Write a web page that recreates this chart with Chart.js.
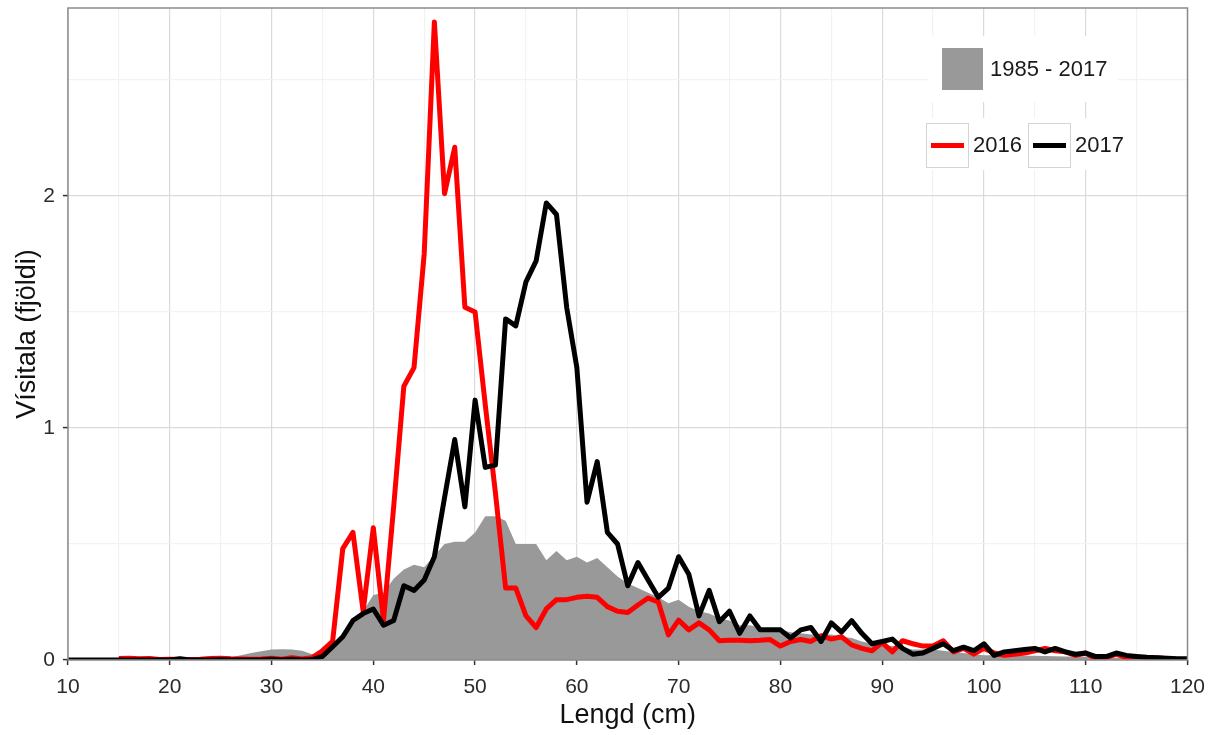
<!DOCTYPE html>
<html>
<head>
<meta charset="utf-8">
<script src="https://cdn.jsdelivr.net/npm/chart.js@4"></script>
<style>
  html, body { margin: 0; padding: 0; background: #fff; }
  #wrap { width: 1215px; height: 735px; }
</style>
</head>
<body>
<div id="wrap"><canvas id="lengdChart" width="1215" height="735"></canvas></div>
<script>
// Lengd (cm)
const lengd = [
  10, 11, 12, 13, 14, 15, 16, 17, 18, 19,
  20, 21, 22, 23, 24, 25, 26, 27, 28, 29,
  30, 31, 32, 33, 34, 35, 36, 37, 38, 39,
  40, 41, 42, 43, 44, 45, 46, 47, 48, 49,
  50, 51, 52, 53, 54, 55, 56, 57, 58, 59,
  60, 61, 62, 63, 64, 65, 66, 67, 68, 69,
  70, 71, 72, 73, 74, 75, 76, 77, 78, 79,
  80, 81, 82, 83, 84, 85, 86, 87, 88, 89,
  90, 91, 92, 93, 94, 95, 96, 97, 98, 99,
  100, 101, 102, 103, 104, 105, 106, 107, 108, 109,
  110, 111, 112, 113, 114, 115, 116, 117, 118, 119,
  120
];

// 1985 - 2017 (meðaltal, grátt svæði)
const medaltal = [
  0, 0, 0, 0, 0.001, 0.002, 0.002, 0.002, 0.002, 0.002,
  0.003, 0.003, 0.003, 0.004, 0.005, 0.007, 0.012, 0.02, 0.03, 0.038,
  0.045, 0.046, 0.045, 0.04, 0.025, 0.035, 0.055, 0.09, 0.15, 0.21,
  0.28, 0.29, 0.35, 0.39, 0.41, 0.40, 0.45, 0.50, 0.51, 0.51,
  0.55, 0.62, 0.62, 0.60, 0.50, 0.50, 0.50, 0.43, 0.47, 0.43,
  0.445, 0.42, 0.44, 0.40, 0.36, 0.33, 0.31, 0.29, 0.27, 0.245,
  0.26, 0.23, 0.21, 0.20, 0.18, 0.17, 0.15, 0.15, 0.14, 0.13,
  0.13, 0.12, 0.115, 0.11, 0.11, 0.11, 0.10, 0.095, 0.08, 0.07,
  0.065, 0.06, 0.055, 0.045, 0.045, 0.045, 0.04, 0.035, 0.03, 0.025,
  0.02, 0.02, 0.02, 0.02, 0.018, 0.018, 0.017, 0.016, 0.015, 0.015,
  0.014, 0.012, 0.01, 0.01, 0.008, 0.007, 0.006, 0.005, 0.004, 0.003,
  0.002
];

// 2016
const ar2016 = [
  null, null, null, null, null, 0.006, 0.008, 0.005, 0.006, 0.002,
  0.003, 0.002, 0.002, 0.003, 0.006, 0.008, 0.005, 0.004, 0.003, 0.004,
  0.008, 0.003, 0.01, 0.004, 0.01, 0.04, 0.08, 0.48, 0.55, 0.21,
  0.57, 0.17, 0.66, 1.18, 1.26, 1.75, 2.75, 2.01, 2.21, 1.52,
  1.50, 1.10, 0.72, 0.31, 0.31, 0.19, 0.14, 0.22, 0.26, 0.26,
  0.27, 0.275, 0.27, 0.23, 0.21, 0.205, 0.237, 0.267, 0.25, 0.108,
  0.172, 0.13, 0.16, 0.13, 0.083, 0.085, 0.085, 0.083, 0.085, 0.088,
  0.06, 0.08, 0.088, 0.08, 0.105, 0.09, 0.10, 0.065, 0.05, 0.04,
  0.075, 0.035, 0.083, 0.07, 0.06, 0.06, 0.083, 0.035, 0.05, 0.025,
  0.05, 0.03, 0.02, 0.025, 0.03, 0.04, 0.05, 0.04, 0.035, 0.02,
  0.03, 0.005, 0.01, 0.025, 0.01, 0.015, 0.005, 0.01, 0.005, 0.002,
  0
];

// 2017
const ar2017 = [
  0, 0, 0, 0, 0, 0, 0, 0, 0, 0,
  0, 0.006, 0, 0, 0, 0.002, 0, 0, 0, 0,
  0.003, 0, 0.003, 0, 0.002, 0.015, 0.057, 0.10, 0.17, 0.20,
  0.22, 0.15, 0.17, 0.32, 0.30, 0.345, 0.445, 0.70, 0.95, 0.66,
  1.12, 0.83, 0.84, 1.47, 1.44, 1.63, 1.72, 1.97, 1.92, 1.52,
  1.26, 0.68, 0.855, 0.55, 0.50, 0.32, 0.42, 0.345, 0.27, 0.31,
  0.445, 0.37, 0.19, 0.30, 0.165, 0.21, 0.115, 0.19, 0.13, 0.13,
  0.13, 0.095, 0.13, 0.14, 0.08, 0.16, 0.12, 0.17, 0.115, 0.07,
  0.08, 0.09, 0.05, 0.025, 0.03, 0.05, 0.07, 0.04, 0.055, 0.04,
  0.07, 0.02, 0.035, 0.04, 0.045, 0.05, 0.035, 0.05, 0.035, 0.025,
  0.03, 0.015, 0.015, 0.03, 0.02, 0.015, 0.012, 0.01, 0.008, 0.005,
  0.005
];

const xTicks = [10, 20, 30, 40, 50, 60, 70, 80, 90, 100, 110, 120];
const yTicks = [0, 1, 2];

const FONT = "'Liberation Sans', Arial, sans-serif";
const toPoints = (vals) => lengd.map((x, i) => ({ x: x, y: vals[i] }));

// Rammi utan um teiknisvæðið (eins og theme_bw)
const panelBorder = {
    id: 'panelBorder',
    afterDatasetsDraw(chart) {
        const { ctx, chartArea: a } = chart;
        ctx.save();
        ctx.strokeStyle = '#8c8c8c';
        ctx.lineWidth = 1.5;
        ctx.strokeRect(a.left, a.top, a.right - a.left, a.bottom - a.top);
        ctx.restore();
    }
};

// Tvær skýringar inni í myndinni
const insideLegends = {
    id: 'insideLegends',
    afterDraw(chart) {
        const ctx = chart.ctx;
        const ds = chart.data.datasets;
        ctx.save();
        ctx.font = '22px ' + FONT;
        ctx.textBaseline = 'middle';
        ctx.textAlign = 'left';

        // skýring 1: 1985 - 2017
        ctx.fillStyle = '#ffffff';
        ctx.fillRect(928, 36, 190, 66);
        ctx.fillStyle = ds[2].backgroundColor;
        ctx.fillRect(942, 48, 41, 42);
        ctx.fillStyle = '#1a1a1a';
        ctx.fillText(ds[2].label, 990, 70);

        // skýring 2: 2016, 2017
        ctx.fillStyle = '#ffffff';
        ctx.fillRect(921, 118, 208, 52);
        const keys = [
            { d: ds[1], x: 926 },
            { d: ds[0], x: 1028 }
        ];
        keys.forEach(k => {
            ctx.strokeStyle = '#d4d4d4';
            ctx.lineWidth = 1;
            ctx.strokeRect(k.x + 0.5, 123.5, 42, 44);
            ctx.strokeStyle = k.d.borderColor;
            ctx.lineWidth = 5;
            ctx.beginPath();
            ctx.moveTo(k.x + 5, 145.5);
            ctx.lineTo(k.x + 38, 145.5);
            ctx.stroke();
            ctx.fillStyle = '#1a1a1a';
            ctx.fillText(k.d.label, k.x + 47, 146);
        });
        ctx.restore();
    }
};

const isMajorX = (v) => xTicks.includes(v);
const isMajorY = (v) => yTicks.includes(v);

new Chart(document.getElementById('lengdChart'), {
    type: 'line',
    data: {
        datasets: [
            {
                label: '2017',
                data: toPoints(ar2017),
                borderColor: '#000000',
                borderWidth: 5,
                borderJoinStyle: 'round',
                pointRadius: 0,
                fill: false,
                tension: 0,
                order: 0
            },
            {
                label: '2016',
                data: toPoints(ar2016),
                borderColor: '#ff0000',
                borderWidth: 5,
                borderJoinStyle: 'round',
                pointRadius: 0,
                fill: false,
                tension: 0,
                spanGaps: false,
                order: 1
            },
            {
                label: '1985 - 2017',
                data: toPoints(medaltal),
                borderColor: 'rgba(0,0,0,0)',
                borderWidth: 0,
                backgroundColor: '#999999',
                pointRadius: 0,
                fill: 'origin',
                tension: 0,
                order: 2
            }
        ]
    },
    options: {
        responsive: false,
        animation: false,
        devicePixelRatio: 1,
        layout: {
            padding: { left: 11, right: 27, top: 8, bottom: 3 }
        },
        plugins: {
            legend: { display: false },
            tooltip: { enabled: false }
        },
        scales: {
            x: {
                type: 'linear',
                min: 10,
                max: 120,
                afterFit(scale) { scale.height = 72; },
                border: { display: false },
                grid: {
                    color: (c) => isMajorX(c.tick.value) ? '#dadada' : '#f2f2f2',
                    lineWidth: 1.2,
                    drawTicks: true,
                    tickLength: 5,
                    tickColor: (c) => isMajorX(c.tick.value) ? '#333333' : 'rgba(0,0,0,0)',
                    tickWidth: 1.5
                },
                ticks: {
                    stepSize: 5,
                    includeBounds: false,
                    autoSkip: false,
                    maxRotation: 0,
                    padding: 10,
                    color: '#2b2b2b',
                    font: { family: FONT, size: 21 },
                    callback: (v) => isMajorX(v) ? String(v) : ''
                },
                title: {
                    display: true,
                    text: 'Lengd (cm)',
                    color: '#111111',
                    font: { family: FONT, size: 27 },
                    padding: { top: 0, bottom: 0 }
                }
            },
            y: {
                min: 0,
                max: 2.81,
                afterFit(scale) {
                    scale.width = 57;
                    scale.paddingTop = 0;
                    scale.paddingBottom = 0;
                },
                border: { display: false },
                grid: {
                    color: (c) => isMajorY(c.tick.value) ? '#dadada' : '#f2f2f2',
                    lineWidth: 1.2,
                    drawTicks: true,
                    tickLength: 5,
                    tickColor: (c) => isMajorY(c.tick.value) ? '#333333' : 'rgba(0,0,0,0)',
                    tickWidth: 1.5
                },
                ticks: {
                    stepSize: 0.5,
                    includeBounds: false,
                    autoSkip: false,
                    padding: 8,
                    color: '#2b2b2b',
                    font: { family: FONT, size: 21 },
                    callback: (v) => isMajorY(v) ? String(v) : ''
                },
                title: {
                    display: true,
                    text: 'Vísitala (fjöldi)',
                    color: '#111111',
                    font: { family: FONT, size: 27 },
                    padding: { top: 0, bottom: 0 }
                }
            }
        }
    },
    plugins: [panelBorder, insideLegends]
});
</script>
</body>
</html>
